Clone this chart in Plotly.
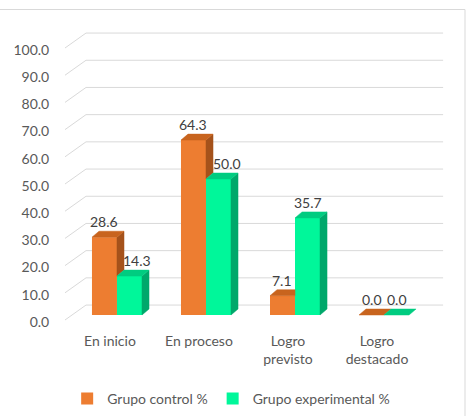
import plotly.graph_objects as go

# ---- data ----
categories = ["En inicio", "En proceso", "Logro<br>previsto", "Logro<br>destacado"]
control = [28.6, 64.3, 7.1, 0.0]
experimental = [14.3, 50.0, 35.7, 0.0]
y_ticks = [0, 10, 20, 30, 40, 50, 60, 70, 80, 90, 100]
series_names = ["Grupo control %", "Grupo experimental %"]

# ---- geometry / style ----
W, H = 467, 416
L, R, T, B = 65, 23, 30, 91
pos = list(range(len(categories)))
bw = 0.281          # bar width (category units)
ddx = 0.079         # bar depth, x
ddy = 2.2           # bar depth, y (value units)
back_dx, back_dy = 0.236, 5.5   # back wall offset relative to front axis
front_x0 = -0.584
front_dy = -1.84
x_range = [-0.584, 3.674]
y_range = [-3.676, 104.78]

c_front = ["#ED7D31", "#00F79A"]
c_top = ["#C8641E", "#00CC80"]
c_side = ["#A5521B", "#00A86B"]
grid_c = "#D9D9D9"
txt_c = "#595959"
FONT = "Lato"

fig = go.Figure()

vals = [control, experimental]
for s in range(2):
    fig.add_trace(go.Bar(
        x=pos, y=vals[s], width=bw, offset=(-bw if s == 0 else 0),
        marker=dict(color=c_front[s], line=dict(width=0)),
        name=series_names[s], hoverinfo="skip",
    ))

def poly_trace(xs, ys, color):
    return go.Scatter(x=xs, y=ys, mode="lines", fill="toself", fillcolor=color,
                      line=dict(width=0.5, color=color), hoverinfo="skip",
                      showlegend=False)

for s in range(2):
    tx, ty, sx, sy = [], [], [], []
    for i, p in enumerate(pos):
        v = vals[s][i]
        x0 = p - bw if s == 0 else p
        x1 = x0 + bw
        if s == 0:
            vg = experimental[i]
            if vg > v:
                top = [(x0, v), (x0 + ddx, v + ddy), (x1, v + ddy), (x1, v)]
            else:
                top = [(x0, v), (x0 + ddx, v + ddy), (x1 + ddx, v + ddy), (x1, v)]
            if v > vg:
                side = [(x1, vg), (x1 + ddx, vg + ddy), (x1 + ddx, v + ddy), (x1, v)]
            else:
                side = []
        else:
            top = [(x0, v), (x0 + ddx, v + ddy), (x1 + ddx, v + ddy), (x1, v)]
            side = [(x1, 0), (x1 + ddx, ddy), (x1 + ddx, v + ddy), (x1, v)] if v > 0 else []
        for (a, b) in top + [top[0]]:
            tx.append(a); ty.append(b)
        tx.append(None); ty.append(None)
        if side:
            for (a, b) in side + [side[0]]:
                sx.append(a); sy.append(b)
            sx.append(None); sy.append(None)
    if sx:
        fig.add_trace(poly_trace(sx, sy, c_side[s]))
    fig.add_trace(poly_trace(tx, ty, c_top[s]))

# ---- back wall gridlines and diagonals ----
shapes = []
for t in y_ticks:
    yb = t + front_dy + back_dy
    shapes.append(dict(type="line", xref="x", yref="y", layer="below",
                       x0=front_x0 + back_dx, x1=x_range[1] - 0.01, y0=yb, y1=yb,
                       line=dict(color=grid_c, width=1)))
    shapes.append(dict(type="line", xref="x", yref="y", layer="below",
                       x0=front_x0, x1=front_x0 + back_dx, y0=t + front_dy, y1=yb,
                       line=dict(color=grid_c, width=1)))
# chart border
shapes.append(dict(type="rect", xref="paper", yref="paper",
                   x0=(-1 - L) / (W - L - R), x1=(465 - L) / (W - L - R),
                   y0=-0.4, y1=(H - B - 9.5) / (H - T - B),
                   line=dict(color=grid_c, width=1), fillcolor="rgba(0,0,0,0)"))

# ---- data labels ----
ann = []
for s in range(2):
    for i, p in enumerate(pos):
        v = vals[s][i]
        xc = p - bw / 2 if s == 0 else p + bw / 2
        shift = 0
        if s == 1 and control[i] > v:
            shift = 8
        ann.append(dict(x=xc, y=v, xref="x", yref="y", text=f"{v:.1f}",
                        showarrow=False, yanchor="middle", yshift=15.5, xshift=shift,
                        font=dict(family=FONT, size=14, color="#404040")))

fig.update_layout(
    width=W, height=H,
    margin=dict(l=L, r=R, t=T, b=B, pad=0),
    paper_bgcolor="white", plot_bgcolor="white",
    barmode="overlay",
    shapes=shapes, annotations=ann,
    font=dict(family=FONT, size=14, color=txt_c),
    xaxis=dict(range=x_range, showgrid=False, zeroline=False, showline=False,
               tickvals=[p - 0.079 for p in pos], ticktext=categories,
               ticks="outside", ticklen=3, tickcolor="rgba(0,0,0,0)",
               tickfont=dict(family=FONT, size=14, color=txt_c)),
    yaxis=dict(range=y_range, showgrid=False, zeroline=False, showline=False,
               tickvals=[t - 2.55 for t in y_ticks], ticktext=[f"{t:.1f}" for t in y_ticks],
               ticks="outside", ticklen=12, tickcolor="rgba(0,0,0,0)",
               tickfont=dict(family=FONT, size=14, color=txt_c)),
    legend=dict(orientation="h", xref="container", yref="container",
                x=0.495, y=1 - 399 / H, xanchor="center", yanchor="middle",
                font=dict(family=FONT, size=14, color=txt_c), traceorder="normal"),
    showlegend=True,
)

fig.write_html("out.html")
